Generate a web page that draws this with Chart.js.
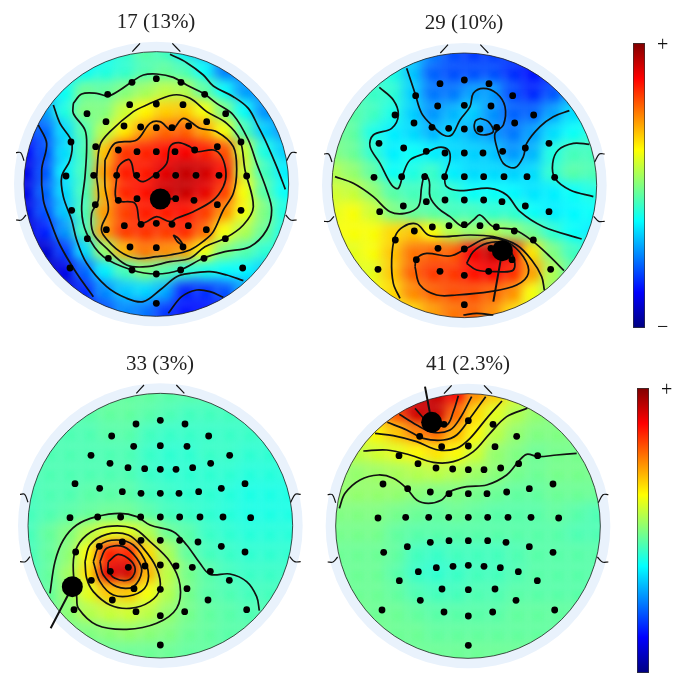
<!DOCTYPE html>
<html>
<head>
<meta charset="utf-8">
<style>
  body { margin: 0; background: #fff; }
  canvas { position: absolute; }
</style>
<script src="https://cdn.jsdelivr.net/npm/chart.js@4"></script>
</head>
<body>
<canvas id="map17" width="300" height="336" style="left:6px;top:-2px"></canvas>
<canvas id="map29" width="300" height="336" style="left:314px;top:-1px"></canvas>
<canvas id="map33" width="300" height="336" style="left:10px;top:340px"></canvas>
<canvas id="map41" width="300" height="336" style="left:318px;top:340px"></canvas>
<canvas id="bar1" width="50" height="333" style="left:633px;top:19px"></canvas>
<canvas id="bar2" width="47" height="333" style="left:637px;top:364px"></canvas>
<script>
// positions below are in 3x picture pixels, one set per panel
var titles = ["17 (13%)", "29 (10%)", "33 (3%)", "41 (2.3%)"];
var barLabelsTop = ["\u2212", "+"];
var barLabelsBottom = ["", "+"];

var electrodes = [[0,-316],[-73,-305],[74,-305],[-146,-269],[145,-269],[-80,-238],[0,-240],[80,-238],[-208,-211],[208,-211],
  [-151,-187],[-97,-174],[-47,-171],[0,-169],[47,-169],[97,-174],[151,-187],[-256,-126],[254,-126],[-182,-112],
  [-114,-102],[-58,-97],[0,-97],[56,-97],[115,-102],[183,-112],[-271,-24],[-188,-26],[-119,-26],[-59,-26],
  [0,-26],[58,-26],[119,-26],[188,-26],[271,-24],[-254,79],[-183,62],[-114,49],[-58,44],[0,44],
  [58,44],[113,49],[183,62],[254,79],[-150,137],[-96,125],[-46,121],[0,118],[47,121],[96,125],
  [150,137],[-207,164],[207,164],[-79,189],[0,191],[80,189],[-144,223],[143,223],[-259,252],[-73,258],
  [0,270],[73,258],[259,252],[0,358]];

var headMarks = [
  [[-72,-397],[-49,-422]], [[48,-422],[72,-397]],
  [[-421,-94],[-407,-94],[-397,-70]], [[-421,108],[-405,108],[-391,93]],
  [[391,-70],[405,-94],[421,-94]], [[388,93],[403,108],[421,108]]
];

var heat17 = [
  [30,30,30,30,38,42,46,44,36,30,25,25,25,25],
  [35,35,35,38,40,42,45,47,45,38,25,22,22,22],
  [32,34,38,48,47,50,53,56,55,47,38,28,24,24],
  [25,28,40,50,50,57,63,67,68,62,50,38,27,25],
  [18,22,34,45,55,64,72,77,78,72,62,45,33,27],
  [12,20,34,44,68,82,84,86,88,85,80,58,40,33],
  [10,20,36,44,72,85,85,90,93,92,86,58,44,36],
  [10,22,34,44,70,84,86,92,93,90,82,62,46,38],
  [10,20,32,44,72,81,85,85,86,82,74,62,50,40],
  [8,15,27,44,72,82,83,82,84,78,62,55,48,40],
  [8,8,18,34,52,70,76,74,72,62,50,46,42,40],
  [6,6,10,22,36,44,50,46,42,40,38,37,33,30],
  [6,6,8,16,26,32,34,30,16,17,20,28,28,28],
  [8,8,8,14,20,26,24,18,14,14,16,20,24,24]
];
var heat29 = [
  [35,35,35,35,32,25,20,18,18,18,18,18,18,18],
  [42,42,42,40,32,22,20,20,20,17,14,16,18,20],
  [45,44,43,42,33,24,24,28,28,20,16,20,27,30],
  [47,46,44,40,33,27,30,33,27,22,22,28,34,36],
  [48,47,40,36,34,30,33,30,27,24,28,34,38,40],
  [50,48,42,36,38,36,34,33,32,27,30,40,44,44],
  [55,52,47,38,40,43,36,34,34,33,34,42,46,45],
  [58,57,52,46,44,44,42,38,38,37,35,36,38,40],
  [60,62,58,50,47,46,44,44,42,42,38,36,37,38],
  [62,62,62,66,68,62,55,52,55,52,48,42,38,36],
  [60,60,62,68,76,78,78,88,93,90,65,50,44,40],
  [60,60,60,68,78,82,82,86,88,84,72,55,46,40],
  [60,60,62,66,74,78,80,80,78,74,62,52,48,40],
  [60,60,62,64,66,72,76,78,74,66,60,52,48,40]
];
var heat33 = [
  [47,47,47,47,47,47,47,46,46,46,46,46,46,46],
  [46,46,46,46,47,47,46,45,44,44,44,44,44,44],
  [45,45,45,45,46,46,44,43,43,43,43,43,43,43],
  [45,45,45,45,45,45,43,42,42,43,43,42,42,42],
  [45,45,45,45,45,45,43,42,42,42,42,41,41,41],
  [44,45,45,46,46,46,44,43,42,42,41,40,40,40],
  [44,45,46,47,48,48,46,44,43,42,41,40,40,40],
  [44,47,50,55,60,60,55,48,46,43,42,41,41,41],
  [44,47,51,62,84,84,66,54,47,44,43,42,42,42],
  [44,47,53,65,90,92,70,56,49,46,44,43,43,43],
  [45,47,52,60,68,68,62,55,49,46,45,44,44,44],
  [46,48,51,55,57,58,56,52,49,47,46,45,45,45],
  [47,48,49,50,51,52,51,50,48,47,46,46,46,46],
  [47,47,47,47,48,48,48,48,47,47,46,46,46,46]
];
var heat41 = [
  [85,85,85,90,93,93,88,74,68,60,55,52,50,50],
  [70,70,72,80,92,93,78,66,60,55,52,50,50,50],
  [60,60,63,68,75,78,70,63,56,52,50,50,50,50],
  [56,56,58,60,63,65,63,58,52,50,48,49,49,49],
  [52,52,53,54,55,56,55,53,51,49,48,49,49,49],
  [52,52,52,52,51,50,50,49,48,47,47,48,48,48],
  [50,50,50,49,48,47,48,47,46,46,46,47,46,45],
  [49,49,49,47,46,46,46,46,46,46,46,46,45,45],
  [48,48,48,47,44,43,44,44,44,45,46,46,46,46],
  [48,48,48,46,43,42,43,44,44,45,46,46,46,46],
  [48,48,48,47,45,44,44,45,45,46,46,46,46,46],
  [49,49,48,48,47,46,46,46,46,47,47,47,47,47],
  [49,49,49,48,48,47,47,47,47,47,47,47,47,47],
  [48,48,48,48,48,48,48,48,48,48,48,48,48,48]
];

var lines17 = [
  [[510,163],[560,188],[610,225],[640,258],[700,290],[745,325],[775,380],[800,430],[830,500],[856,568]],
  [[115,375],[140,430],[125,510],[130,600],[150,660],[180,735],[230,820],[280,890]],
  [[160,315],[180,370],[215,425],[210,480],[185,530],[190,590],[215,660],[230,720],[260,790],[320,860],[380,895],[430,905],[480,870],[530,830],[570,820],[630,815],[680,825],[730,842]],
  [[220,310],[245,282],[290,280],[325,288],[360,270],[396,245],[430,225],[470,222],[520,232],[560,255],[610,280],[650,310],[700,345],[745,420],[770,490],[800,570],[815,630],[800,690],[750,740],[675,755],[610,775],[540,810],[470,822],[395,810],[310,770],[260,700],[245,630],[255,530],[260,440],[255,390],[220,340],[220,310]],
  [[290,530],[300,435],[330,395],[400,335],[440,315],[520,285],[570,295],[620,335],[680,370],[720,420],[735,510],[760,620],[730,675],[675,715],[615,740],[570,775],[510,785],[440,800],[380,795],[320,745],[280,700],[275,640],[295,600],[290,530]],
  [[315,480],[345,430],[410,420],[450,370],[480,365],[515,390],[550,355],[600,385],[650,395],[700,440],[710,510],[700,580],[670,630],[640,695],[615,720],[570,750],[510,765],[470,770],[410,775],[360,755],[310,705],[305,680],[325,630],[315,560],[315,480]],
  [[350,530],[355,500],[385,478],[395,490],[405,530],[430,545],[470,520],[500,490],[510,440],[535,428],[570,440],[590,455],[640,450],[665,470],[678,520],[670,560],[640,600],[580,635],[530,655],[510,665],[470,650],[440,665],[420,670],[405,610],[350,600],[350,530]],
  [[520,705],[535,715],[548,735],[532,725],[520,705]],
  [[505,940],[545,890],[590,870],[630,875],[670,892]]
];
var lines29 = [
  [[290,205],[315,280],[335,340],[370,380],[400,405],[425,405],[450,360],[480,320],[490,280],[520,265],[560,280],[585,320],[580,375],[555,400],[560,440],[580,490],[615,503],[640,470],[650,430],[690,380],[730,350],[778,332]],
  [[510,355],[535,365],[550,395],[520,405],[497,395],[495,365],[510,355]],
  [[208,262],[250,300],[265,345],[245,385],[190,405],[180,440],[210,490],[245,555],[265,565],[280,520],[300,480],[345,460],[385,442],[415,450],[420,480],[405,530],[410,560],[450,572],[540,565],[590,585],[630,635],[700,680],[815,717]],
  [[75,530],[130,550],[190,590],[240,635],[285,640],[325,620],[335,560],[345,522],[358,545],[360,590],[385,625],[420,650],[460,680],[490,660],[510,645],[550,680],[615,690],[670,725],[720,770],[762,812]],
  [[270,895],[250,850],[245,780],[255,710],[280,680],[320,672],[355,705],[400,710],[480,705],[550,710],[620,735],[665,780],[695,830],[703,870]],
  [[315,800],[320,775],[350,760],[420,768],[470,745],[530,715],[590,725],[640,770],[655,820],[620,855],[540,875],[440,885],[380,885],[330,855],[315,800]],
  [[470,790],[490,755],[530,730],[580,730],[610,770],[610,810],[560,815],[500,810],[470,790]],
  [[838,433],[790,430],[745,450],[728,490],[735,535],[780,570],[850,590]],
  [[460,945],[500,940],[550,945]]
];
var lines33 = [
  [[150,745],[165,650],[190,585],[230,540],[290,515],[360,505],[410,515],[450,540],[520,560],[560,600],[600,655],[630,688],[690,687],[740,710],[770,755],[778,797]],
  [[230,755],[220,680],[225,620],[260,570],[320,545],[400,550],[450,590],[510,650],[540,720],[530,790],[470,835],[380,853],[290,840],[235,790],[230,755]],
  [[255,650],[270,600],[320,568],[385,570],[430,610],[470,670],[480,730],[450,770],[390,790],[330,780],[280,740],[260,700],[255,650]],
  [[280,650],[300,600],[350,585],[400,600],[440,660],[440,720],[400,750],[340,750],[300,710],[280,650]],
  [[300,650],[320,610],[370,605],[410,640],[425,680],[400,725],[350,725],[310,690],[300,650]],
  [[325,650],[355,628],[395,650],[405,680],[385,705],[345,700],[325,675],[325,650]]
];
var lines41 = [
  [[88,490],[105,445],[150,405],[205,390],[250,400],[290,430],[320,465],[355,475],[395,465],[420,440],[470,425],[530,420],[590,390],[625,350],[650,328],[685,335],[740,330],[800,325]],
  [[160,318],[230,315],[300,330],[370,352],[430,350],[490,320],[540,265],[590,215],[652,190]],
  [[195,265],[250,272],[320,290],[385,315],[440,310],[480,280],[530,220],[576,168]],
  [[232,232],[290,255],[340,280],[400,285],[440,270],[480,220],[527,155]],
  [[268,208],[320,240],[370,262],[420,255],[450,220],[485,155]],
  [[315,190],[360,235],[410,240],[430,200],[445,152]]
];

var bigDots = [[481,597], [577,752], [217,725], [365,232]];
var sticks = [
  [[481,597],[527,596]],
  [[577,752],[550,905]],
  [[217,725],[152,850]],
  [[365,232],[345,125]]
];

// head centre, then chart area corner, for each panel
var centres = [[469,552], [463,556], [481,542], [474,543]];
var dotCentres = [[469,552], [463,556], [481,542], [475,543]];
var corners = [[18,102], [12,105], [30,93], [24,93]];
var heats = [heat17, heat29, heat33, heat41];
var lines = [lines17, lines29, lines33, lines41];
var ids = ["map17", "map29", "map33", "map41"];

function toXY(p) {
  return { x: p[0], y: p[1] };
}

function jet(v) {
  function part(d) {
    return Math.round(255 * Math.max(0, Math.min(1, 1.5 - Math.abs(4 * v - d))));
  }
  return "rgb(" + part(3) + "," + part(2) + "," + part(1) + ")";
}

// ring round the head, and the blur + clip for the colour cells
var headPlugin = {
  id: "head",
  beforeDatasetsDraw: function (chart, args, opts) {
    var c = chart.ctx;
    var x = chart.scales.x, y = chart.scales.y;
    c.save();
    c.fillStyle = "#e9f2fc";
    c.beginPath();
    c.arc(x.getPixelForValue(opts.cx), y.getPixelForValue(opts.cy), Math.abs(x.getPixelForValue(opts.cx + 427) - x.getPixelForValue(opts.cx)), 0, Math.PI * 2);
    c.fill();
    c.restore();
  },
  beforeDatasetDraw: function (chart, args, opts) {
    if (args.index !== 0) return;
    var c = chart.ctx;
    var x = chart.scales.x, y = chart.scales.y;
    c.save();
    c.beginPath();
    c.arc(x.getPixelForValue(opts.cx), y.getPixelForValue(opts.cy), Math.abs(x.getPixelForValue(opts.cx + 397) - x.getPixelForValue(opts.cx)), 0, Math.PI * 2);
    c.clip();
    c.filter = "blur(6px)";
  },
  afterDatasetDraw: function (chart, args, opts) {
    if (args.index !== 0) return;
    var c = chart.ctx;
    var x = chart.scales.x, y = chart.scales.y;
    c.restore();
    c.save();
    c.strokeStyle = "#222";
    c.lineWidth = 0.8;
    c.beginPath();
    c.arc(x.getPixelForValue(opts.cx), y.getPixelForValue(opts.cy), Math.abs(x.getPixelForValue(opts.cx + 397) - x.getPixelForValue(opts.cx)), 0, Math.PI * 2);
    c.stroke();
    c.restore();
  }
};

function lineSet(points, width) {
  return {
    data: points.map(toXY),
    showLine: true,
    fill: false,
    tension: 0.35,
    pointRadius: 0,
    borderWidth: width,
    borderColor: "#111",
    clip: false
  };
}

function drawMap(i) {
  var ctr = centres[i], dc = dotCentres[i], corner = corners[i];
  var cells = [], colours = [];
  heats[i].forEach(function (row, r) {
    row.forEach(function (val, k) {
      cells.push({ x: ctr[0] - 390 + 60 * k, y: ctr[1] - 390 + 60 * r });
      colours.push(jet(val / 100));
    });
  });

  var datasets = [{
    data: cells,
    pointStyle: "rect",
    pointRadius: 18,
    pointBorderWidth: 0,
    pointBackgroundColor: colours,
    clip: false
  }];
  headMarks.forEach(function (m) {
    datasets.push(lineSet(m.map(function (p) { return [p[0] + ctr[0], p[1] + ctr[1]]; }), 1.2));
  });
  lines[i].forEach(function (l) {
    datasets.push(lineSet(l, 1.7));
  });
  datasets.push(lineSet(sticks[i], 2));
  datasets.push({
    data: electrodes.map(function (e) { return { x: e[0] + dc[0], y: e[1] + dc[1] }; }),
    pointRadius: 3.4,
    pointBackgroundColor: "#000",
    pointBorderWidth: 0,
    clip: false
  });
  datasets.push({
    data: [toXY(bigDots[i])],
    pointRadius: 10.5,
    pointBackgroundColor: "#000",
    pointBorderWidth: 0,
    clip: false
  });
  // chart.js draws the highest order first, colour cells go underneath
  datasets.forEach(function (d, k) {
    d.order = -k;
  });

  new Chart(document.getElementById(ids[i]), {
    type: "scatter",
    data: { datasets: datasets },
    plugins: [headPlugin],
    options: {
      responsive: false,
      animation: false,
      events: [],
      layout: { autoPadding: false },
      plugins: {
        legend: { display: false },
        tooltip: { enabled: false },
        title: {
          display: true,
          text: titles[i],
          color: "#222",
          font: { family: "Liberation Serif", size: 21, weight: "normal", lineHeight: 24 / 21 },
          padding: { top: 12, bottom: 0 }
        },
        head: { cx: ctr[0], cy: ctr[1] }
      },
      scales: {
        x: { display: false, min: corner[0], max: corner[0] + 900 },
        y: { display: false, reverse: true, min: corner[1], max: corner[1] + 900 }
      }
    }
  });
}

function drawBar(id, labels) {
  new Chart(document.getElementById(id), {
    type: "bar",
    data: {
      labels: ["scale"],
      datasets: [{
        data: [[0, 1]],
        barPercentage: 1,
        categoryPercentage: 1,
        borderColor: "#333",
        borderWidth: 1,
        borderSkipped: false,
        backgroundColor: function (ctx) {
          var area = ctx.chart.chartArea;
          if (!area) return "#888";
          var g = ctx.chart.ctx.createLinearGradient(0, area.bottom, 0, area.top);
          for (var s = 0; s <= 16; s++) g.addColorStop(s / 16, jet(s / 16));
          return g;
        }
      }]
    },
    options: {
      responsive: false,
      animation: false,
      events: [],
      plugins: { legend: { display: false }, tooltip: { enabled: false } },
      scales: {
        x: { display: false },
        y: {
          position: "right",
          min: 0,
          max: 1,
          border: { display: false },
          grid: { display: false, drawTicks: false },
          afterBuildTicks: function (axis) {
            axis.ticks = [{ value: 0 }, { value: 0.99 }];
          },
          afterFit: function (axis) {
            axis.width = axis.chart.width - 12;
          },
          ticks: {
            padding: 12,
            autoSkip: false,
            color: "#111",
            font: { family: "Liberation Serif", size: 20 },
            callback: function (value) {
              return value < 0.5 ? labels[0] : labels[1];
            }
          }
        }
      }
    }
  });
}

titles.forEach(function (t, i) {
  drawMap(i);
});
drawBar("bar1", barLabelsTop);
drawBar("bar2", barLabelsBottom);
</script>
</body>
</html>
